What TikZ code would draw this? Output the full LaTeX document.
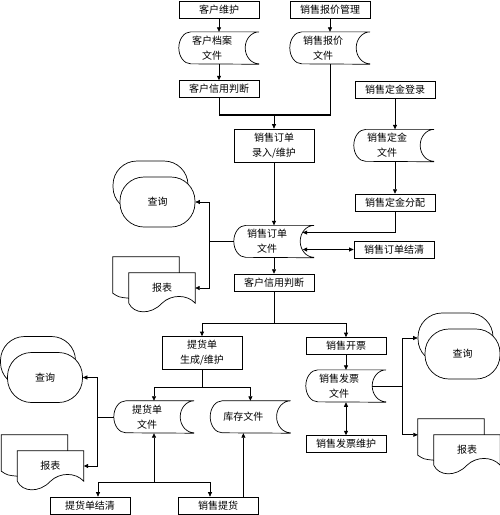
\documentclass[tikz,border=0pt]{standalone}
\usepackage{fontspec}
\newfontfamily\cjk{Noto Sans CJK SC}
\usepackage{tikz}
\usetikzlibrary{arrows.meta, positioning, calc, shadows}

% data file: round left side, hollow right side
\newcommand{\filedraw}[1]{%
  \draw[line width=0.7pt] ([xshift=14pt]#1.north east) -- ([xshift=12pt]#1.north west)
    arc[start angle=90, end angle=270, x radius=12pt, y radius=16pt]
    -- ([xshift=14pt]#1.south east)
    ([xshift=14pt]#1.north east) arc[start angle=90, end angle=270, x radius=14pt, y radius=16pt];
}
% stack of reports with a wavy bottom
\newcommand{\reportdraw}[1]{%
  \draw[line width=0.7pt] ([xshift=-16pt]#1.north east) -- ++(0pt,16pt)
    -| ([xshift=-16pt,yshift=10pt]#1.south west)
    .. controls ([xshift=-10pt,yshift=6pt]#1.south west) .. ([yshift=5pt]#1.south west);
  \draw[line width=0.7pt] (#1.south west) -- (#1.north west) -- (#1.north east) -- (#1.south east)
    .. controls ([xshift=-8pt,yshift=9pt]#1.south east) and ([xshift=-24pt,yshift=9pt]#1.south east) .. (#1.south)
    .. controls ([xshift=22pt,yshift=-12pt]#1.south west) and ([xshift=5pt,yshift=-11pt]#1.south west) .. (#1.south west);
}

\begin{document}
\begin{tikzpicture}[
    x=1pt, y=-1pt,
    box/.style={
        rectangle,
        draw=black,
        line width=0.7pt,
        align=center,
        inner sep=0pt,
        minimum width=80pt,
        minimum height=17pt,
        font=\cjk\fontsize{10}{15}\selectfont
    },
    tallbox/.style={box, minimum height=33pt},
    file/.style={
        rectangle,
        align=center,
        inner sep=0pt,
        minimum width=66pt,
        minimum height=32pt,
        font=\cjk\fontsize{10}{15}\selectfont
    },
    query/.style={
        rectangle,
        rounded corners=24pt,
        draw=black,
        fill=white,
        line width=0.7pt,
        inner sep=0pt,
        minimum width=75pt,
        minimum height=50pt,
        font=\cjk\fontsize{10}{15}\selectfont,
        copy shadow={shadow xshift=-7pt, shadow yshift=16pt, draw=black, fill=white}
    },
    report/.style={
        rectangle,
        inner sep=0pt,
        minimum width=66pt,
        minimum height=30pt,
        font=\cjk\fontsize{10}{15}\selectfont
    },
    arrow/.style={-{Triangle[length=4.5pt, width=4pt]}, line width=0.7pt},
    dblarrow/.style={{Triangle[length=4.5pt, width=4pt]}-{Triangle[length=4.5pt, width=4pt]}, line width=0.7pt},
    link/.style={line width=0.7pt},
    bus/.style={line width=1.4pt}
]
\useasboundingbox (0,0) rectangle (500,515);

% ---------------- Orders ----------------
\node[box] (cust) at (219,10) {客户维护};
\node[box] (quote) at (330,10) {销售报价管理};
\node[file, below=13pt of cust, xshift=-7pt] (custfile) {客户档案\\文件};
\node[file, below=13pt of quote, xshift=-7pt] (quotefile) {销售报价\\文件};
\node[box, below=16pt of custfile, xshift=7pt] (credit1) {客户信用判断};
\node[box] (deplog) at (395,89.5) {销售定金登录};
\node[tallbox] (orderin) at (274,145.5) {销售订单\\录入/维护};
\node[file, below=31pt of deplog, xshift=-8pt] (depfile) {销售定金\\文件};
\node[box, below=32pt of depfile, xshift=8pt] (depalloc) {销售定金分配};
\node[file, below=63pt of orderin, xshift=-7pt] (orderfile) {销售订单\\文件};
\node[box] (orderclr) at (394,249.5) {销售订单结清};
\node[box, below=16pt of orderfile, xshift=7pt] (credit2) {客户信用判断};
\node[query] (query1) at (157.5,202) {查询};
\node[report] (report1) at (162,288) {报表};

\draw[arrow] (cust) -- (cust |- custfile.north);
\draw[arrow] (quote) -- (quote |- quotefile.north);
\draw[arrow] (cust |- custfile.south) -- (credit1);
\coordinate (j1) at (274,115);
\draw[link] (credit1) |- (j1);
\draw[link] (quote |- quotefile.south) |- (j1);
\draw[bus] (credit1 |- j1) -- (quote |- j1);
\draw[arrow] (j1) -- (orderin);

\draw[arrow] (deplog) -- (deplog |- depfile.north);
\draw[arrow] (depalloc |- depfile.south) -- (depalloc);
\draw[arrow] (orderin) -- (orderin |- orderfile.north);
\coordinate (oin) at ($(orderfile.east)+(2.5pt,0pt)$);
\draw[arrow] (depalloc) |- ($(oin)+(0pt,9pt)$);
\draw[dblarrow] (orderclr.west) -- (orderclr.west -| oin);

\draw[bus] (orderfile.west) -- ++(-24,0) coordinate (b1);
\draw[arrow] (b1 |- query1.east) |- (report1.east);
\draw[arrow] (b1 |- report1.east) |- (query1.east);
\draw[arrow] (credit2 |- orderfile.south) -- (credit2);

% ---------------- Delivery and invoice ----------------
\node[tallbox] (ladgen) at (202,353) {提货单\\生成/维护};
\node[box] (invoice) at (346,346) {销售开票};
\node[file, below=15pt of invoice, xshift=-7pt] (invfile) {销售发票\\文件};
\node[box, below=33pt of invfile, xshift=7pt] (invmaint) {销售发票维护};
\node[file] (ladfile) at (147,417) {提货单\\文件};
\node[file, right=30pt of ladfile] (stockfile) {库存文件};
\node[box] (ladclr) at (90,505.5) {提货单结清};
\node[box] (delivery) at (218,505.5) {销售提货};
\node[query] (query2) at (45,377.5) {查询};
\node[report] (report2) at (50.5,466) {报表};
\node[query] (query3) at (462.5,354) {查询};
\node[report] (report3) at (467,450) {报表};

\draw[arrow] (credit2.south) -- ++(0,32) coordinate (j2) -| (ladgen);
\draw[arrow] (j2) -| (invoice);
\draw[arrow] (invoice) -- (invoice |- invfile.north);
\draw[dblarrow] (invmaint |- invfile.south) -- (invmaint);
\draw[link] (invfile.east) -- ++(30,0) coordinate (b3);
\draw[arrow] (b3) |- ($(query3.west)+(-7pt,16pt)$);
\draw[arrow] (b3) |- ($(report3.north west)+(-16pt,0pt)$);

\draw[arrow] (ladgen.south) -- ++(0,17) coordinate (j3) -| ([xshift=7pt]ladfile.north);
\draw[arrow] (j3) -| ([xshift=7pt]stockfile.north);
\draw[link] (ladfile.west) -- ++(-16,0) coordinate (b4);
\draw[arrow] (b4) |- (query2.east);
\draw[arrow] (b4) |- (report2.east);
\coordinate (j4) at ($(ladfile.south)+(7pt,-49pt)$);
\draw[arrow] (j4) -- ([xshift=7pt]ladfile.south);
\draw[arrow] (j4) -| ([xshift=8pt]ladclr.north);
\draw[arrow] (j4) -| ([xshift=-8pt]delivery.north);
\draw[arrow] (delivery.north -| stockfile.south) -- (stockfile.south);

\foreach \f in {custfile,quotefile,depfile,orderfile,invfile,ladfile,stockfile}
  \filedraw{\f};
\foreach \r in {report1,report2,report3}
  \reportdraw{\r};

\end{tikzpicture}
\end{document}
